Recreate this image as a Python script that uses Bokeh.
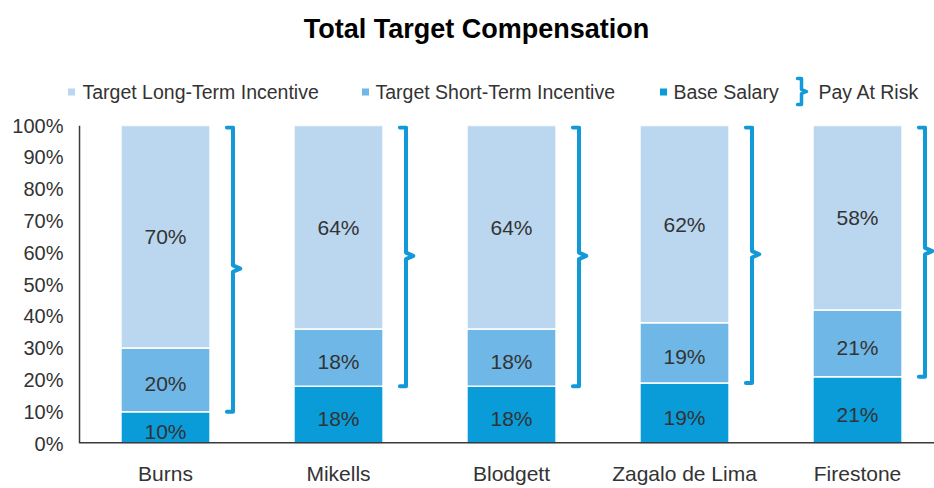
from bokeh.plotting import figure
from bokeh.models import ColumnDataSource, Range1d, FixedTicker
from bokeh.layouts import column
from bokeh.core.properties import value
from bokeh.embed import file_html
from bokeh.resources import INLINE

# ---- data ----
executives = ["Burns", "Mikells", "Blodgett", "Zagalo de Lima", "Firestone"]
base_salary = [10, 18, 18, 19, 21]
short_term = [20, 18, 18, 19, 21]
long_term = [70, 64, 64, 62, 58]
series_names = ["Target Long-Term Incentive", "Target Short-Term Incentive", "Base Salary"]
brace_label = "Pay At Risk"
title_text = "Total Target Compensation"
y_ticks = [0, 10, 20, 30, 40, 50, 60, 70, 80, 90, 100]

C_LONG = "#bad7ef"
C_SHORT = "#6fb7e6"
C_BASE = "#0a9bd9"
C_BRACE = "#1199d8"
C_AXIS = "#3a3a3a"
TXT = "#333333"
FONT = "Liberation Sans"

W, H = 934, 488
TOP_H = 112
FRAME_LEFT = 66  # frame left edge (both figures are aligned to it)

# ---- top figure: title + legend (coordinates = canvas pixels) ----
top = figure(width=W, height=TOP_H, x_range=Range1d(FRAME_LEFT, W), y_range=Range1d(TOP_H, 0),
             output_backend="svg", toolbar_location=None,
             x_axis_location=None, y_axis_location=None,
             min_border_left=FRAME_LEFT, min_border_right=0, min_border_top=0, min_border_bottom=0,
             outline_line_color=None)
top.grid.visible = False
top.text(x=[476], y=[28], text=[title_text], text_align="center", text_baseline="middle",
         text_font=value(FONT), text_font_style="bold", text_font_size="27px", text_color="#000000")

sq_x = [71, 365, 663]
txt_x = [82, 375, 673]
sq_colors = [C_LONG, C_SHORT, C_BASE]
top.rect(x=sq_x, y=[91.5] * 3, width=7, height=7, fill_color=sq_colors, line_color=None)
top.text(x=txt_x, y=[91] * 3, text=series_names, text_align="left", text_baseline="middle",
         text_font=value(FONT), text_font_size="19.5px", text_color=TXT)
# brace icon
bx = 801
top.line(x=[bx - 4, bx, bx, bx + 5, bx, bx, bx - 4],
         y=[78, 78, 89, 91, 93, 104, 104],
         line_color=C_BRACE, line_width=3.5, line_join="round", line_cap="round")
top.text(x=[818], y=[91], text=[brace_label], text_align="left", text_baseline="middle",
         text_font=value(FONT), text_font_size="19.5px", text_color=TXT)

# ---- main chart ----
X_START, X_END = -0.5723, 4.445
X_AXIS = -0.497  # where the value axis line sits
xs = list(range(len(executives)))
src = ColumnDataSource(dict(x=xs, base=base_salary, short=short_term, long=long_term))

p = figure(width=W, height=H - TOP_H, x_range=Range1d(X_START, X_END), y_range=Range1d(0, 100),
           output_backend="svg", toolbar_location=None,
           min_border_left=FRAME_LEFT, min_border_right=0, min_border_top=13, min_border_bottom=45,
           outline_line_color=None)
p.grid.visible = False

p.vbar_stack(["base", "short", "long"], x="x", width=0.515, source=src,
             color=[C_BASE, C_SHORT, C_LONG], line_color="white", line_width=1.5)

# segment labels
lab_x, lab_y, lab_t, lab_off = [], [], [], []
for i in range(len(executives)):
    b, s, l = base_salary[i], short_term[i], long_term[i]
    for center, v, o in ((b / 2, b, 4), (b + s / 2, s, 4), (b + s + l / 2, l, 0)):
        lab_x.append(xs[i]); lab_y.append(center); lab_t.append(f"{v}%"); lab_off.append(o)
lsrc = ColumnDataSource(dict(x=lab_x, y=lab_y, t=lab_t, o=lab_off))
p.text(x="x", y="y", text="t", y_offset="o", source=lsrc, text_align="center", text_baseline="middle",
       text_font=value(FONT), text_font_size="21px", text_color=TXT)

# braces (pay at risk: from base salary top to 100%)
off, hook, tip = 0.39, 0.035, 0.042
bxs, bys = [], []
for i in range(len(executives)):
    lo = base_salary[i]
    hi = base_salary[i] + short_term[i] + long_term[i]
    mid = (lo + hi) / 2
    xb = xs[i] + off
    bxs.append([xb - hook, xb, xb, xb + tip, xb, xb, xb - hook])
    bys.append([hi - 0.6, hi - 0.6, mid + 1.0, mid, mid - 1.0, lo, lo])
p.multi_line(xs=bxs, ys=bys, line_color=C_BRACE, line_width=4, line_join="round", line_cap="round")

# axis lines (drawn so they meet at the value-axis position)
p.segment(x0=[X_AXIS], y0=[0], x1=[X_AXIS], y1=[100], line_color=C_AXIS, line_width=1.5)
p.segment(x0=[X_AXIS], y0=[0], x1=[X_END], y1=[0], line_color=C_AXIS, line_width=3)

# axes
p.xaxis.ticker = FixedTicker(ticks=xs)
p.xaxis.major_label_overrides = {i: n for i, n in zip(xs, executives)}
p.yaxis.ticker = FixedTicker(ticks=y_ticks)
p.yaxis.major_label_overrides = {t: f"{t}%" for t in y_ticks}
for ax in (p.xaxis[0], p.yaxis[0]):
    ax.major_tick_out = 0
    ax.major_tick_in = 0
    ax.minor_tick_out = 0
    ax.minor_tick_in = 0
    ax.axis_line_color = None
    ax.major_label_text_font = FONT
    ax.major_label_text_color = TXT
p.xaxis.major_label_text_font_size = "21px"
p.xaxis.major_label_standoff = 18
p.yaxis.major_label_text_font_size = "20px"
p.yaxis.major_label_standoff = 3

layout = column(top, p, spacing=0)
open("out.html", "w").write(file_html(layout, INLINE))
